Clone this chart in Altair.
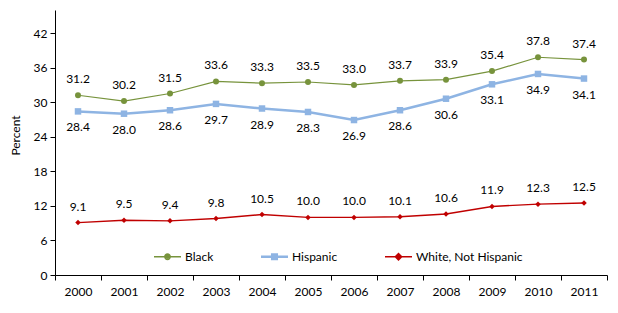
import altair as alt
import pandas as pd

years = [str(y) for y in range(2000, 2012)]
series_names = ["Black", "Hispanic", "White, Not Hispanic"]
black = [31.2, 30.2, 31.5, 33.6, 33.3, 33.5, 33.0, 33.7, 33.9, 35.4, 37.8, 37.4]
hispanic = [28.4, 28.0, 28.6, 29.7, 28.9, 28.3, 26.9, 28.6, 30.6, 33.1, 34.9, 34.1]
white = [9.1, 9.5, 9.4, 9.8, 10.5, 10.0, 10.0, 10.1, 10.6, 11.9, 12.3, 12.5]
y_ticks = [0, 6, 12, 18, 24, 30, 36, 42]

colors = ["#77933C", "#8EB4E3", "#C00000"]


def circ(r):
    return f"M{r},0A{r},{r} 0 1,1 -{r},0A{r},{r} 0 1,1 {r},0"


def sq(h):
    return f"M-{h},-{h}H{h}V{h}H-{h}Z"


def dia(h):
    return f"M0,-{h}L{h},0L0,{h}L-{h},0Z"


# legend glyphs: line segment + marker (marker built from nested outlines)
legend_paths = [
    "M-1,0H1" + circ(0.2) + circ(0.1) + circ(0.02),
    "M-1,-0.04H1M-1,0.04H1" + sq(0.21) + sq(0.12) + sq(0.03),
    "M-1,0H1" + dia(0.24) + dia(0.13) + dia(0.03),
]

rows = []
for name, vals in zip(series_names, [black, hispanic, white]):
    for y, v in zip(years, vals):
        rows.append({"year": y, "series": name, "value": v, "label": f"{v:.1f}"})
df = pd.DataFrame(rows)

FONT = "Lato"

x_enc = alt.X(
    "year:N",
    scale=alt.Scale(type="band", paddingInner=0, paddingOuter=0),
    axis=alt.Axis(
        title=None, labelAngle=0, tickBand="extent", domainColor="#000000",
        tickColor="#000000", tickSize=5, labelPadding=6, labelColor="#000000",
        labelFont=FONT, labelFontSize=12, grid=False,
    ),
)
y_enc = alt.Y(
    "value:Q",
    scale=alt.Scale(domain=[0, 46], nice=False),
    axis=alt.Axis(
        title="Percent", values=y_ticks, domainColor="#000000", tickColor="#000000",
        tickSize=5, labelPadding=3, labelColor="#000000", labelFont=FONT,
        labelFontSize=12, titleFont=FONT, titleFontSize=12, titleFontWeight="normal",
        titleColor="#000000", titleX=-33, titleY=125, grid=False,
    ),
)
color_scale = alt.Scale(domain=series_names, range=colors)

base = alt.Chart(df).encode(x=x_enc, y=y_enc)


def series_layers(name, shape, size, width):
    sub = base.transform_filter(alt.datum.series == name)
    col = colors[series_names.index(name)]
    line = sub.mark_line(strokeWidth=width, color=col)
    pts = sub.mark_point(shape=shape, filled=True, size=size, opacity=1, color=col)
    return [line, pts]


layers = []
layers += series_layers("Black", "circle", 36, 1.2)
layers += series_layers("Hispanic", "square", 42, 2.5)
layers += series_layers("White, Not Hispanic", "diamond", 30, 1.4)

leg = alt.Legend(
    title=None, orient="none", legendX=98, legendY=232, direction="horizontal",
    symbolSize=729, symbolOpacity=1, symbolStrokeWidth=1.4,
    labelFont=FONT, labelFontSize=12, labelColor="#000000",
    labelOffset=3, columnPadding=44,
)
legend_layer = base.mark_point(filled=False, size=0).encode(
    color=alt.Color("series:N", scale=color_scale, legend=leg),
    shape=alt.Shape("series:N", scale=alt.Scale(domain=series_names, range=legend_paths), legend=leg),
)
layers.append(legend_layer)


def labels(name, dy):
    return base.transform_filter(alt.datum.series == name).mark_text(
        dy=dy, font=FONT, fontSize=12, color="#000000"
    ).encode(text="label:N")


layers += [labels("Black", -16), labels("Hispanic", 16), labels("White, Not Hispanic", -16)]

chart = alt.layer(*layers).properties(
    width=552, height=265,
    autosize=alt.AutoSizeParams(type="none"),
    padding={"left": 47, "top": 2, "right": 3, "bottom": 30},
).configure_view(stroke=None)

chart.save("out.html", embed_options={"renderer": "svg", "actions": False})
